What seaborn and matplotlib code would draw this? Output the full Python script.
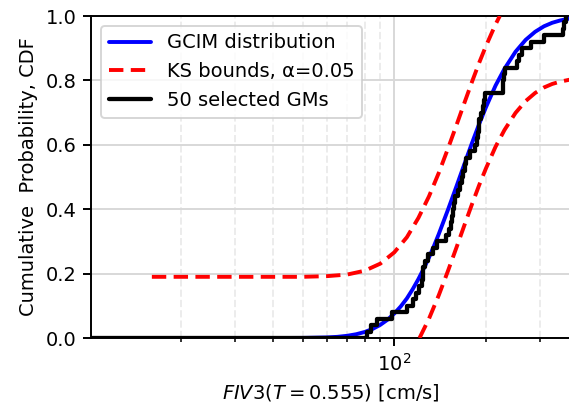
import matplotlib
matplotlib.use("Agg")
import matplotlib.pyplot as plt
import seaborn as sns

# GCIM target distribution of FIV3
gcim_x = [16, 40, 50, 60, 65, 70, 75, 80, 85, 90, 95, 100, 105, 110, 115, 120, 125,
          130, 135, 140, 150, 160, 170, 180, 190, 200, 215, 230, 250, 270, 290,
          310, 330, 350, 380]
gcim_cdf = [0.000, 0.000, 0.0003, 0.0018, 0.0036, 0.0068, 0.0117, 0.0187, 0.0284,
            0.041, 0.0567, 0.076, 0.098, 0.123, 0.152, 0.183, 0.216,
            0.250, 0.286, 0.323, 0.398, 0.471, 0.541, 0.606, 0.665, 0.717, 0.784,
            0.836, 0.889, 0.926, 0.951, 0.968, 0.979, 0.986, 0.993]

# Kolmogorov-Smirnov bounds (alpha = 0.05)
ks_up_x = [16, 40, 50, 60, 70, 80, 90, 100, 110, 120, 130, 140, 150, 160, 170,
           180, 190, 200, 215, 222]
ks_up = [0.190, 0.190, 0.190, 0.192, 0.197, 0.209, 0.231, 0.266, 0.313, 0.373,
         0.440, 0.513, 0.588, 0.661, 0.731, 0.796, 0.855, 0.907, 0.974, 1.000]
ks_lo_x = [121, 130, 140, 150, 160, 170, 180, 190, 200, 215, 230, 250, 270, 290,
           310, 330, 350, 380]
ks_lo = [0.000, 0.060, 0.133, 0.208, 0.281, 0.351, 0.416, 0.475, 0.527, 0.594,
         0.646, 0.699, 0.736, 0.761, 0.778, 0.789, 0.796, 0.803]

# FIV3 of the 50 selected ground motions [cm/s]
gm_fiv3 = [81.2, 84.0, 87.7, 98.0, 109.8, 115.5, 117.8, 120.5, 123.0, 124.0,
           124.5, 126.0, 129.3, 134.0, 137.7, 147.8, 151.6, 153.0, 154.3, 156.0,
           157.0, 158.2, 162.0, 164.3, 166.4, 168.5, 170.7, 172.0, 177.2, 184.1,
           186.4, 188.0, 189.0, 190.2, 192.0, 195.0, 196.5, 198.5, 226.9, 227.5,
           229.0, 230.9, 252.2, 257.3, 261.9, 281.0, 310.0, 359.0, 362.0, 366.0]

sns.set_style("ticks")
plt.rcParams["font.family"] = ["DejaVu Sans"]
plt.rcParams["font.size"] = 10
for key in ("text.color", "axes.labelcolor", "xtick.color", "ytick.color",
            "axes.edgecolor"):
    plt.rcParams[key] = "black"

fig = plt.figure(figsize=(569 / 140, 405 / 140), dpi=140)
ax = fig.add_axes([91 / 569, 1 - 338 / 405, 480 / 569, 322 / 405])
ax.set_xscale("log")

ax.grid(True, which="major", color="#d8d8d8", lw=1.0, zorder=0)
ax.grid(True, which="minor", axis="x", color="#ececec", lw=1.0, ls="--", zorder=0)

sns.lineplot(x=gcim_x, y=gcim_cdf, ax=ax, color="blue", lw=2,
             label="GCIM distribution", zorder=3)
sns.lineplot(x=ks_up_x, y=ks_up, ax=ax, color="red", lw=2, ls="--",
             dashes=False, label="KS bounds, α=0.05", zorder=3)
ax.lines[-1].set_dashes([3.7, 1.9])
sns.lineplot(x=ks_lo_x, y=ks_lo, ax=ax, color="red", lw=2, ls="--",
             dashes=False, label="_nolegend_", zorder=3)
ax.lines[-1].set_dashes([3.7, 1.9])
sns.ecdfplot(x=gm_fiv3, ax=ax, color="black", lw=2.2,
             label="50 selected GMs", zorder=4)

ax.set_xlim(10.1, 380.3)
ax.set_ylim(0, 1)
ax.set_yticks([0.0, 0.2, 0.4, 0.6, 0.8, 1.0])
ax.set_xlabel(r"$FIV3(T=0.555)$ [cm/s]")
ax.set_ylabel("Cumulative  Probability, CDF")
for s in ax.spines.values():
    s.set_linewidth(1.0)
    s.set_color("black")
ax.tick_params(which="major", length=4, width=1.0, color="black", labelcolor="black")
ax.tick_params(which="minor", length=2.2, width=0.8, color="black")

ax.legend(loc="upper left", handlelength=2.2)

fig.savefig("out.png", dpi=140)
